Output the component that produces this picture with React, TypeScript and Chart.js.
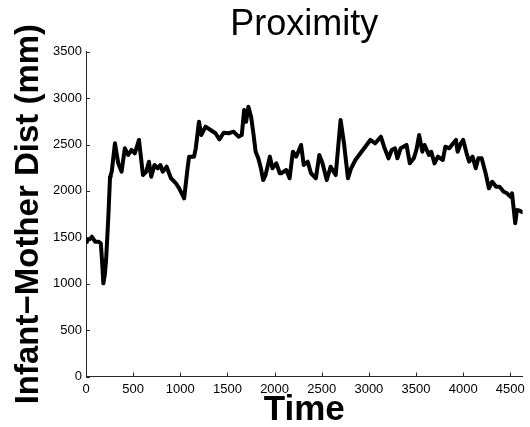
import React, { useEffect, useRef } from "react";
import { Chart, registerables } from "chart.js";

Chart.register(...registerables);

const titleText = "Proximity";
const xTitle = "Time";
const yTitle = "Infant\u2212Mother Dist (mm)";

const xTickValues = [0, 500, 1000, 1500, 2000, 2500, 3000, 3500, 4000, 4500];
const yTickValues = [0, 500, 1000, 1500, 2000, 2500, 3000, 3500];

const times = [
  0, 10, 40, 63, 97, 132, 157, 170, 184, 200, 213, 237, 255, 262, 273, 307, 342, 377, 412, 447,
  482, 517, 562, 604, 639, 667, 692, 726, 761, 789, 813, 855, 901, 954, 988, 1041, 1075, 1093,
  1146, 1164, 1198, 1222, 1268, 1321, 1373, 1415, 1460, 1513, 1565, 1617, 1652, 1677, 1698,
  1722, 1751, 1775, 1799, 1827, 1855, 1879, 1904, 1950, 1977, 2019, 2055, 2071, 2124, 2159,
  2194, 2229, 2281, 2309, 2351, 2386, 2438, 2474, 2508, 2553, 2595, 2648, 2700, 2736, 2778,
  2812, 2857, 2910, 2962, 3015, 3067, 3127, 3161, 3208, 3242, 3277, 3302, 3337, 3399, 3434,
  3476, 3504, 3533, 3567, 3591, 3637, 3661, 3696, 3732, 3784, 3811, 3853, 3895, 3924, 3941,
  3976, 4000, 4036, 4063, 4099, 4133, 4161, 4196, 4238, 4273, 4308, 4350, 4385, 4430, 4465,
  4500, 4518, 4552, 4570, 4594, 4630,
];

const distances = [
  1450, 1471, 1480, 1506, 1453, 1453, 1435, 1250, 1004, 1100, 1255, 1722, 2153, 2171, 2207, 2513,
  2297, 2207, 2459, 2387, 2441, 2405, 2549, 2171, 2207, 2315, 2153, 2279, 2244, 2279, 2207, 2261,
  2136, 2082, 2028, 1920, 2225, 2369, 2369, 2459, 2746, 2602, 2692, 2656, 2621, 2556, 2627, 2621,
  2638, 2584, 2602, 2872, 2746, 2907, 2800, 2621, 2422, 2351, 2244, 2117, 2171, 2369, 2244, 2297,
  2190, 2190, 2225, 2136, 2422, 2369, 2495, 2279, 2315, 2190, 2136, 2387, 2297, 2117, 2261, 2171,
  2764, 2513, 2136, 2244, 2333, 2405, 2476, 2549, 2513, 2584, 2476, 2351, 2441, 2459, 2351, 2459,
  2495, 2297, 2351, 2441, 2602, 2422, 2495, 2387, 2422, 2297, 2369, 2333, 2476, 2459, 2513, 2549,
  2422, 2513, 2549, 2405, 2315, 2369, 2244, 2351, 2351, 2190, 2028, 2099, 2045, 2045, 1991, 1974,
  1938, 1974, 1651, 1794, 1790, 1770,
];

const FONT = "'Liberation Sans', Arial, Helvetica, sans-serif";
const AXIS_COLOR = "#262626";

const inwardTicks = {
  id: "inwardTicks",
  afterDatasetsDraw(chart: any) {
    const { ctx, chartArea, scales } = chart;
    const len = 4;
    ctx.save();
    ctx.strokeStyle = AXIS_COLOR;
    ctx.lineWidth = 1;
    ctx.beginPath();
    scales.x.ticks.forEach((t: any) => {
      const px = Math.round(scales.x.getPixelForValue(t.value)) + 0.5;
      ctx.moveTo(px, chartArea.bottom);
      ctx.lineTo(px, chartArea.bottom - len);
    });
    scales.y.ticks.forEach((t: any) => {
      const py = Math.round(scales.y.getPixelForValue(t.value)) + 0.5;
      ctx.moveTo(chartArea.left, py);
      ctx.lineTo(chartArea.left + len, py);
    });
    ctx.stroke();
    ctx.restore();
  },
};

export default function App() {
  const canvasRef = useRef<HTMLCanvasElement | null>(null);

  useEffect(() => {
    if (!canvasRef.current) return;
    const points = times.map((t, i) => ({ x: t, y: distances[i] }));
    const chart = new Chart(canvasRef.current, {
      type: "line",
      data: {
        datasets: [
          {
            data: points,
            borderColor: "#000000",
            borderWidth: 4,
            pointRadius: 0,
            tension: 0,
            borderJoinStyle: "round",
            borderCapStyle: "round",
            fill: false,
          },
        ],
      },
      options: {
        responsive: false,
        animation: false,
        devicePixelRatio: 1,
        layout: { padding: { left: 0, right: 2, top: 0, bottom: 0 } },
        plugins: {
          legend: { display: false },
          tooltip: { enabled: false },
          title: {
            display: true,
            text: titleText,
            fullSize: false,
            color: "#000000",
            font: { family: FONT, size: 36, weight: "normal", lineHeight: 1 },
            padding: { top: 7.4, bottom: 8.3 },
          },
        },
        scales: {
          x: {
            type: "linear",
            min: 0,
            max: 4630,
            afterBuildTicks: (scale: any) => {
              scale.ticks = xTickValues.map((v) => ({ value: v }));
            },
            afterFit: (scale: any) => {
              scale.height = 50.5;
            },
            grid: { display: false, drawTicks: false },
            border: { display: true, color: AXIS_COLOR, width: 1 },
            ticks: {
              color: "#000000",
              font: { family: FONT, size: 13 },
              padding: 5,
              autoSkip: false,
              maxRotation: 0,
              callback: (v: any) => String(v),
            },
            title: {
              display: true,
              text: xTitle,
              color: "#000000",
              font: { family: FONT, size: 35, weight: "bold", lineHeight: 1 },
              padding: { top: 0, bottom: -1 },
            },
          },
          y: {
            type: "linear",
            min: 0,
            max: 3500,
            afterBuildTicks: (scale: any) => {
              scale.ticks = yTickValues.map((v) => ({ value: v }));
            },
            afterFit: (scale: any) => {
              scale.width = 86;
            },
            grid: { display: false, drawTicks: false },
            border: { display: true, color: AXIS_COLOR, width: 1 },
            ticks: {
              color: "#000000",
              font: { family: FONT, size: 13 },
              padding: 4,
              callback: (v: any) => String(v),
            },
            title: {
              display: true,
              text: yTitle,
              color: "#000000",
              font: { family: FONT, size: 33, weight: "bold", lineHeight: 1 },
              padding: { top: 12, bottom: 0 },
            },
          },
        },
      },
      plugins: [inwardTicks],
    });
    return () => chart.destroy();
  }, []);

  return (
    <div style={{ position: "fixed", left: 0, top: 0, width: 530, height: 427, background: "#ffffff" }}>
      <canvas ref={canvasRef} width={530} height={427} style={{ display: "block" }} />
    </div>
  );
}
